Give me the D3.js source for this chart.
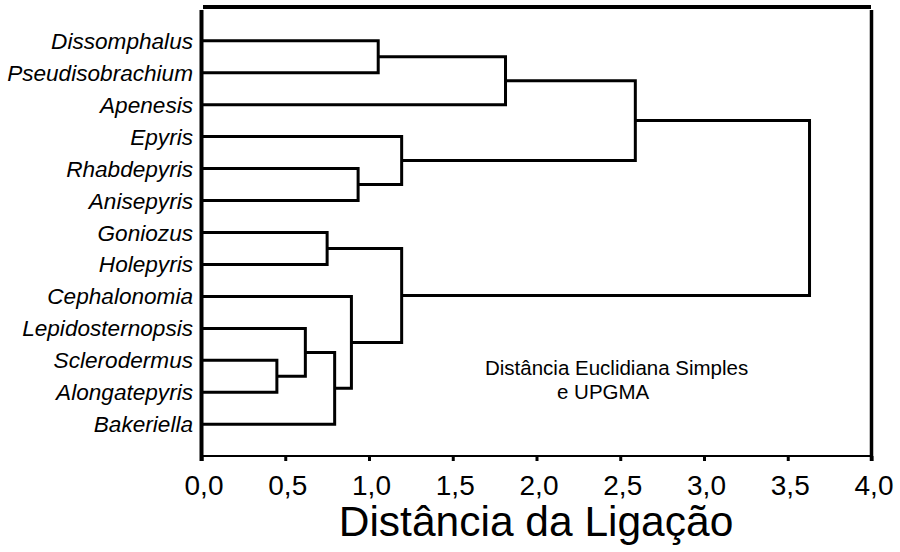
<!DOCTYPE html>
<html>
<head>
<meta charset="utf-8">
<script src="https://cdn.jsdelivr.net/npm/d3@7/dist/d3.min.js"></script>
<style>
  html, body { margin: 0; padding: 0; background: #fff; }
  svg { display: block; }
  text { font-family: "Liberation Sans", Arial, sans-serif; fill: #000; }
</style>
</head>
<body>
<svg id="chart" width="900" height="552"></svg>
<script>
// ---- data ----
const leaves = [
  "Dissomphalus", "Pseudisobrachium", "Apenesis", "Epyris", "Rhabdepyris",
  "Anisepyris", "Goniozus", "Holepyris", "Cephalonomia", "Lepidosternopsis",
  "Sclerodermus", "Alongatepyris", "Bakeriella"
];
// merges: [childA, childB, linkage distance]; ids 0..12 are leaves, 13+ are earlier merges
const mergeA = [10, 9, 6, 14, 8, 4, 0, 3, 15, 19, 22, 23];
const mergeB = [11, 13, 7, 12, 16, 5, 1, 18, 17, 2, 20, 21];
const mergeH = [0.45, 0.62, 0.75, 0.795, 0.895, 0.935, 1.055, 1.195, 1.195, 1.815, 2.59, 3.63];
const tickValues = [0, 0.5, 1, 1.5, 2, 2.5, 3, 3.5, 4];
const tickLabels = ["0,0", "0,5", "1,0", "1,5", "2,0", "2,5", "3,0", "3,5", "4,0"];
const axisTitle = "Distância da Ligação";
const noteLines = ["Distância Euclidiana Simples", "e UPGMA"];

// ---- layout ----
const svg = d3.select("#chart");
const x = d3.scaleLinear().domain([0, 4]).range([201.5, 871.5]);
const y = d3.scalePoint().domain(leaves).range([40.7, 424.3]);

// node positions
const nodeH = leaves.map(() => 0);
const nodeY = leaves.map(d => y(d));
mergeA.forEach((a, i) => {
  const b = mergeB[i];
  nodeH.push(mergeH[i]);
  nodeY.push((nodeY[a] + nodeY[b]) / 2);
});

// dendrogram links
const g = svg.append("g");
mergeA.forEach((a, i) => {
  const b = mergeB[i];
  const h = mergeH[i];
  const p = d3.path();
  p.moveTo(x(nodeH[a]), nodeY[a]);
  p.lineTo(x(h), nodeY[a]);
  p.lineTo(x(h), nodeY[b]);
  p.lineTo(x(nodeH[b]), nodeY[b]);
  g.append("path")
    .attr("d", p.toString())
    .attr("fill", "none")
    .attr("stroke", "#000")
    .attr("stroke-width", 3)
    .attr("stroke-linejoin", "miter");
});

// leaf labels
svg.append("g").selectAll("text")
  .data(leaves)
  .join("text")
  .attr("x", 193)
  .attr("y", d => y(d) + 8)
  .attr("text-anchor", "end")
  .attr("font-style", "italic")
  .attr("font-size", 22.6)
  .text(d => d);

// frame
const frame = svg.append("g").attr("stroke", "#000").attr("fill", "none");
frame.append("line").attr("x1", 203).attr("x2", 871).attr("y1", 7).attr("y2", 7).attr("stroke-width", 4);
frame.append("line").attr("x1", x(0)).attr("x2", x(0)).attr("y1", 10).attr("y2", 461).attr("stroke-width", 4);
frame.append("line").attr("x1", x(4)).attr("x2", x(4)).attr("y1", 10).attr("y2", 461).attr("stroke-width", 3.5);

// x axis
const axis = d3.axisBottom(x)
  .tickValues(tickValues)
  .tickSize(5)
  .tickPadding(14)
  .tickFormat((d, i) => tickLabels[i]);
const ax = svg.append("g").attr("transform", "translate(0,456)").call(axis);
ax.select(".domain").attr("stroke", "#000").attr("stroke-width", 2).attr("d", `M${x(0)},0H${x(4)}`);
ax.selectAll(".tick line").attr("stroke", "#000").attr("stroke-width", 3);
ax.selectAll(".tick text")
  .attr("font-family", "'Liberation Sans', Arial, sans-serif")
  .attr("font-size", 28)
  .attr("dx", 2)
  .attr("fill", "#000");

// axis title
svg.append("text")
  .attr("x", 536)
  .attr("y", 536)
  .attr("text-anchor", "middle")
  .attr("font-size", 42.5)
  .text(axisTitle);

// annotation
svg.append("text").attr("x", 485).attr("y", 375).attr("font-size", 20.5).text(noteLines[0]);
svg.append("text").attr("x", 557).attr("y", 399).attr("font-size", 20.5).text(noteLines[1]);
</script>
</body>
</html>
